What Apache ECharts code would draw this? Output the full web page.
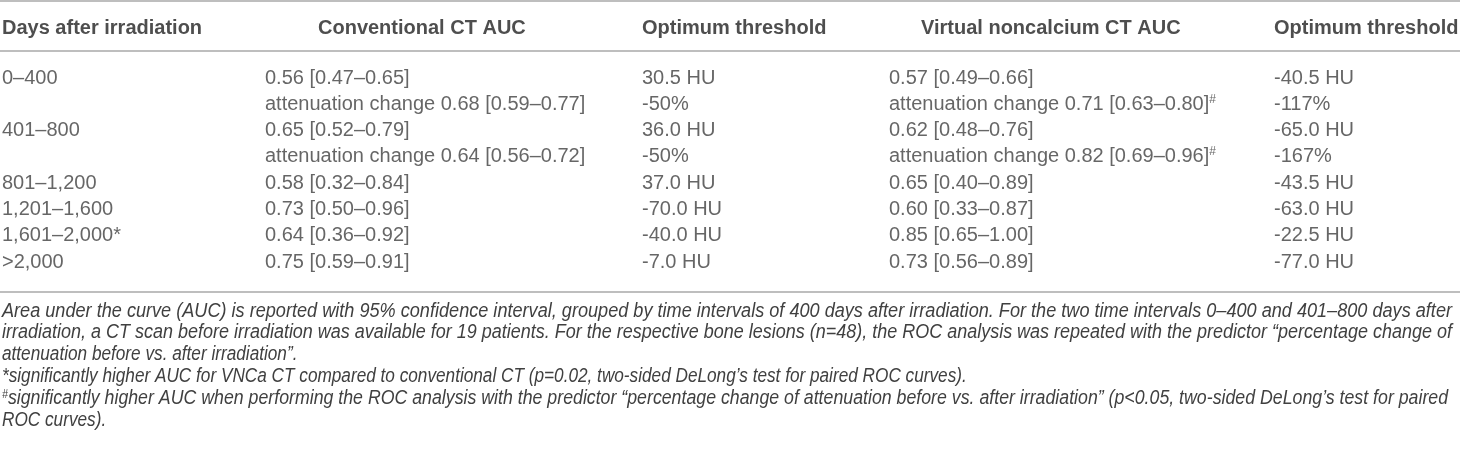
<!DOCTYPE html>
<html>
<head>
<meta charset="utf-8">
<script src="https://cdn.jsdelivr.net/npm/echarts@6.0.0/dist/echarts.min.js"></script>
<style>
html, body { margin: 0; padding: 0; background: #fff; }
#main { width: 1460px; height: 452px; }
</style>
</head>
<body>
<div id="main"></div>
<script>
/* ---------- data ---------- */
var headers = ['Days after irradiation', 'Conventional CT AUC', 'Optimum threshold', 'Virtual noncalcium CT AUC', 'Optimum threshold'];
var days = ['0–400', '', '401–800', '', '801–1,200', '1,201–1,600', '1,601–2,000*', '>2,000'];
var convAuc = ['0.56 [0.47–0.65]', 'attenuation change 0.68 [0.59–0.77]', '0.65 [0.52–0.79]', 'attenuation change 0.64 [0.56–0.72]',
    '0.58 [0.32–0.84]', '0.73 [0.50–0.96]', '0.64 [0.36–0.92]', '0.75 [0.59–0.91]'];
var convThr = ['30.5 HU', '-50%', '36.0 HU', '-50%', '37.0 HU', '-70.0 HU', '-40.0 HU', '-7.0 HU'];
var vncAuc = ['0.57 [0.49–0.66]', 'attenuation change 0.71 [0.63–0.80]#', '0.62 [0.48–0.76]', 'attenuation change 0.82 [0.69–0.96]#',
    '0.65 [0.40–0.89]', '0.60 [0.33–0.87]', '0.85 [0.65–1.00]', '0.73 [0.56–0.89]'];
var vncThr = ['-40.5 HU', '-117%', '-65.0 HU', '-167%', '-43.5 HU', '-63.0 HU', '-22.5 HU', '-77.0 HU'];
var footnotes = [
    'Area under the curve (AUC) is reported with 95% confidence interval, grouped by time intervals of 400 days after irradiation. For the two time intervals 0–400 and 401–800 days after',
    'irradiation, a CT scan before irradiation was available for 19 patients. For the respective bone lesions (n=48), the ROC analysis was repeated with the predictor “percentage change of',
    'attenuation before vs. after irradiation”.',
    '*significantly higher AUC for VNCa CT compared to conventional CT (p=0.02, two-sided DeLong’s test for paired ROC curves).',
    '#significantly higher AUC when performing the ROC analysis with the predictor “percentage change of attenuation before vs. after irradiation” (p<0.05, two-sided DeLong’s test for paired',
    'ROC curves).'
];
var justified = [true, true, false, false, true, false];
var columns = [days, convAuc, convThr, vncAuc, vncThr];

/* ---------- layout ---------- */
var ROW0 = 78, ROW_H = 26.3;          // centre of first body row, body row pitch
var HEAD_Y = 28;
var RULES_Y = [1, 51, 292];
var NOTE0 = 311, NOTE_H = 21.9;
var headX = [2, 318, 642, 921, 1274];
var cellX = [2, 265, 642, 889, 1274];
var NOTE_W = 1452;

var FONT = "'Liberation Sans', Arial, sans-serif";
var NOTE_SIZE = 20, NOTE_SCALE = 0.86;
var INK = '#404040';

function rowAt(px) { return (px - ROW0) / ROW_H; }
function supText(s) { return s.replace(/#/g, '{sup|#}'); }

var ctx = document.createElement('canvas').getContext('2d');
ctx.font = 'italic ' + NOTE_SIZE + 'px ' + FONT;

function textSeries(points, style) {
    return {
        type: 'scatter',
        symbolSize: 0,
        silent: true,
        data: points,
        label: Object.assign({
            show: true,
            position: 'right',
            distance: 0,
            formatter: function (p) { return supText(p.data[2]); },
            rich: { sup: { fontSize: 12, verticalAlign: 'top', lineHeight: 12, color: style.color } }
        }, style)
    };
}

var series = [];

// header row
series.push(textSeries(headers.map(function (h, c) { return [headX[c], rowAt(HEAD_Y), h]; }), {
    fontFamily: FONT, fontSize: 20, fontWeight: 'bold', color: '#222', lineHeight: 22
}));

// body cells
columns.forEach(function (col, c) {
    var pts = [];
    col.forEach(function (txt, r) { if (txt) pts.push([cellX[c], r, txt]); });
    series.push(textSeries(pts, {
        fontFamily: FONT, fontSize: 20, color: INK, lineHeight: 22
    }));
});

// rules
series.push({
    type: 'line',
    data: [],
    silent: true,
    markLine: {
        silent: true,
        symbol: 'none',
        label: { show: false },
        lineStyle: { color: '#a8a8a8', width: 1.5, type: 'solid' },
        data: RULES_Y.map(function (y) { return { yAxis: rowAt(y) }; })
    }
});

var chart = echarts.init(document.getElementById('main'), null, { renderer: 'canvas' });
chart.setOption({
    animation: false,
    backgroundColor: '#fff',
    grid: { left: 0, right: 0, top: 0, bottom: 0 },
    xAxis: { type: 'value', min: 0, max: 1460, show: false },
    yAxis: { type: 'value', inverse: true, min: rowAt(0), max: rowAt(452), show: false },
    series: series
});

// notes: italic, horizontally condensed, justified lines stretched to the table width
var notes = footnotes.map(function (t, i) {
    var pos = chart.convertToPixel({ gridIndex: 0 }, [2, rowAt(NOTE0 + i * NOTE_H)]);
    var w = ctx.measureText(t).width;
    return {
        type: 'text',
        silent: true,
        x: pos[0],
        y: pos[1],
        scaleX: justified[i] ? (NOTE_W - pos[0]) / w : NOTE_SCALE,
        style: {
            text: supText(t),
            font: 'italic ' + NOTE_SIZE + 'px ' + FONT,
            fill: INK,
            verticalAlign: 'middle',
            align: 'left',
            rich: { sup: { fontSize: 12, verticalAlign: 'top', lineHeight: 12, fill: INK, fontStyle: 'italic' } }
        }
    };
});
chart.setOption({ graphic: notes });
</script>
</body>
</html>
